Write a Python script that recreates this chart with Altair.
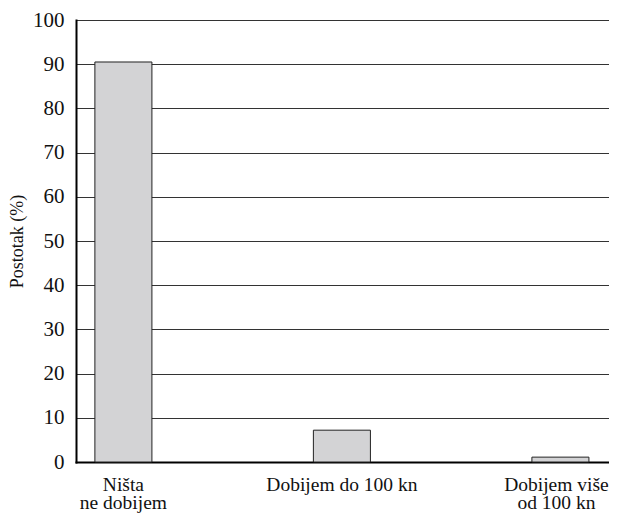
import altair as alt
import pandas as pd

categories = ["Ništa|ne dobijem", "Dobijem do 100 kn", "Dobijem više|od 100 kn"]
values = [90.5, 7.2, 1.1]
y_ticks = [0, 10, 20, 30, 40, 50, 60, 70, 80, 90, 100]

df = pd.DataFrame({"cat": categories, "val": values})

FONT = "Liberation Serif"

chart = alt.Chart(df).mark_bar(
    color="#d3d3d5", stroke="#222222", strokeWidth=1
).encode(
    x=alt.X("cat:N", sort=categories,
            scale=alt.Scale(paddingInner=0.739, paddingOuter=0.096, align=0.45),
            axis=alt.Axis(title=None, labelAngle=0, ticks=False,
                          labelExpr="split(datum.label, '|')",
                          labelFont=FONT, labelFontSize=19.5, labelColor="#111111",
                          labelLineHeight=18.5, labelPadding=13,
                          labelOffset={"condition": {"test": "indexof(datum.value, 'više') >= 0",
                                                     "value": -4}, "value": 0},
                          domainColor="black", domainWidth=2)),
    y=alt.Y("val:Q", scale=alt.Scale(domain=[0, 100], nice=False),
            axis=alt.Axis(title="Postotak (%)", values=y_ticks, ticks=False,
                          grid=True, gridColor="#333333", gridWidth=1,
                          labelFont=FONT, labelFontSize=21, labelColor="#111111",
                          labelPadding=12, titleFont=FONT, titleFontSize=18,
                          titleFontWeight="normal", titleColor="#111111",
                          titlePadding=6,
                          domainColor="black", domainWidth=2)),
).properties(
    width=536, height=442,
    padding={"left": 68, "top": 12, "right": -3, "bottom": 51},
    autosize=alt.AutoSizeParams(type="none"),
).configure_view(stroke=None).configure_axis(domainCap="square")

chart.save("out.html", embed_options={"renderer": "svg", "actions": False})
